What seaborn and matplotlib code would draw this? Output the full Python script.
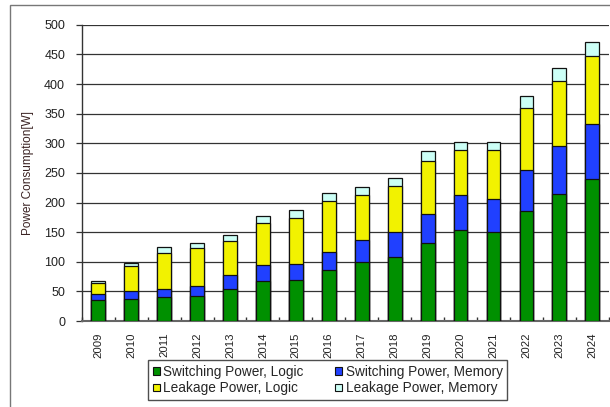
import numpy as np
import pandas as pd
import matplotlib
matplotlib.use("Agg")
import matplotlib.pyplot as plt
from matplotlib.patches import Rectangle, Patch
import seaborn as sns

years = [str(y) for y in range(2009, 2025)]
switching_logic = [35, 37, 40, 42, 55, 68, 70, 86, 99, 108, 131, 154, 150, 185, 215, 239]
switching_memory = [11, 14, 15, 17, 22, 26, 26, 31, 38, 42, 50, 58, 56, 70, 81, 93]
leakage_logic = [18, 42, 60, 64, 59, 72, 78, 85, 75, 78, 89, 76, 82, 105, 110, 115]
leakage_memory = [3, 5, 10, 9, 9, 12, 14, 14, 14, 14, 17, 14, 15, 20, 21, 24]

series_names = ["Switching Power, Logic", "Switching Power, Memory",
                "Leakage Power, Logic", "Leakage Power, Memory"]
series_values = [switching_logic, switching_memory, leakage_logic, leakage_memory]
series_colors = ["#009000", "#2040ff", "#f2f200", "#ccfff6"]

sns.set_theme(style="white")
plt.rcParams["font.family"] = ["Liberation Sans", "DejaVu Sans"]

fig = plt.figure(figsize=(6.10, 4.07), dpi=100)
ax = fig.add_axes([0.134, 0.211, 0.864, 0.728])

# stacked bars: draw cumulative totals from the top layer down
stack = np.cumsum(np.array(series_values), axis=0)
for i in range(len(series_names) - 1, -1, -1):
    df = pd.DataFrame({"year": years, "total": stack[i]})
    sns.barplot(data=df, x="year", y="total", color=series_colors[i],
                saturation=1, width=0.42, edgecolor="#111111", linewidth=0.9,
                ax=ax, zorder=3)

ax.set_ylim(0, 500)
ax.set_xlim(-0.5, len(years) - 0.5)
ax.set_yticks(np.arange(0, 501, 50))
ax.yaxis.grid(True, color="#333333", linewidth=0.9)
ax.set_axisbelow(True)
ax.set_xlabel("")
ax.set_ylabel("Power Consumption[W]", fontsize=8.5, color="#3a2222", labelpad=7)

ax.tick_params(axis="y", length=4, width=0.9, color="#333333", direction="out",
               pad=8, labelsize=9, labelcolor="#222222", left=True)
ax.tick_params(axis="x", length=0, pad=8, labelsize=8.2, labelcolor="#222222",
               labelrotation=90)
ax.set_xticks(np.arange(-0.5, len(years), 1.0), minor=True)
ax.tick_params(axis="x", which="minor", length=3, direction="in",
               color="#333333", bottom=True)

for side in ["top", "right"]:
    ax.spines[side].set_visible(False)
ax.spines["left"].set_color("#333333")
ax.spines["bottom"].set_color("#666666")
ax.spines["left"].set_linewidth(1.0)
ax.spines["bottom"].set_linewidth(1.5)

# legend below the plot, filled row by row
handles = [Patch(facecolor=c, edgecolor="#111111", linewidth=0.8) for c in series_colors]
order = [0, 2, 1, 3]
fig.legend([handles[k] for k in order], [series_names[k] for k in order],
           ncol=2, loc="lower left", bbox_to_anchor=(148 / 610, 1 - 400 / 407),
           borderaxespad=0, frameon=True, fancybox=False, edgecolor="#222222",
           fontsize=9.8, handlelength=0.5, handleheight=0.5, handletextpad=0.25,
           columnspacing=2.35, labelspacing=0.2, borderpad=0.35)

# outer chart frame
fig.patches.append(Rectangle((10 / 610, -0.05), 1.0, 1 - 5 / 407 + 0.05,
                             transform=fig.transFigure, fill=False,
                             edgecolor="#777777", linewidth=1.0))

fig.savefig("out.png", dpi=100)
